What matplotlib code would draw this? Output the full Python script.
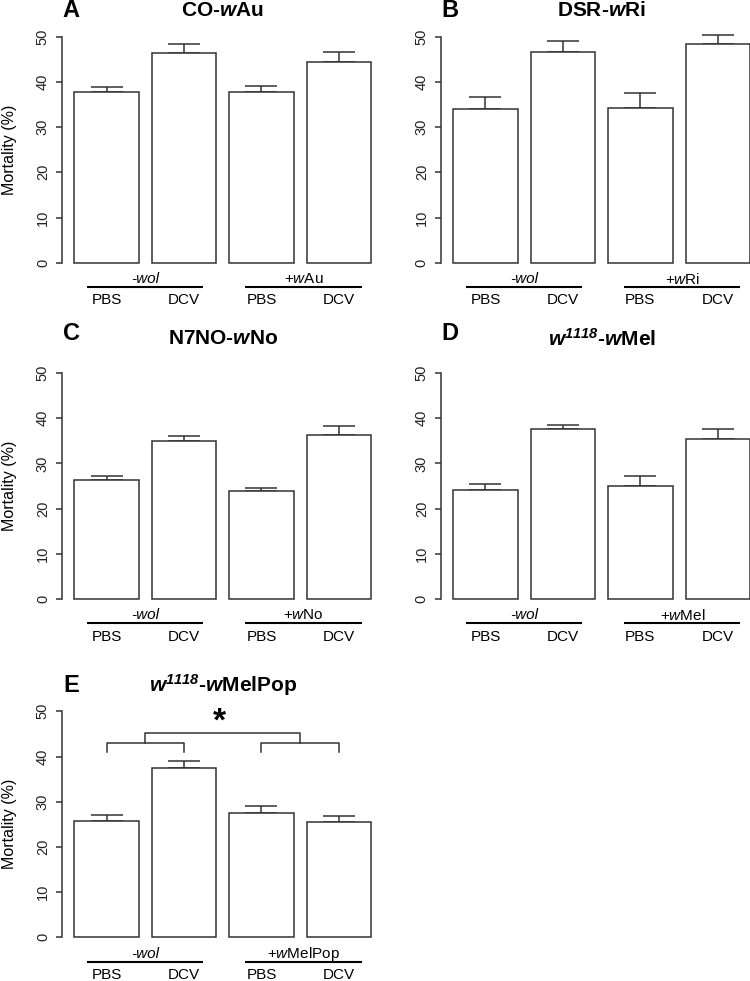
import matplotlib
matplotlib.use('Agg')
import matplotlib.pyplot as plt

plt.rcParams['font.family'] = ['Liberation Sans', 'DejaVu Sans']
plt.rcParams['mathtext.fontset'] = 'custom'
plt.rcParams['mathtext.rm'] = 'Liberation Sans'
plt.rcParams['mathtext.it'] = 'Liberation Sans:italic'
plt.rcParams['mathtext.bf'] = 'Liberation Sans:bold'
plt.rcParams['mathtext.bfit'] = 'Liberation Sans:italic:bold'

# ---------------- data ----------------
conditions = ['PBS', 'DCV', 'PBS', 'DCV']
panel_letters = ['A', 'B', 'C', 'D', 'E']
titles = [r'CO-$\mathbfit{w}$Au',
          r'DSR-$\mathbfit{w}$Ri',
          r'N7NO-$\mathbfit{w}$No',
          r'$\mathbfit{w}^{\mathbfit{1118}}$-$\mathbfit{w}$Mel',
          r'$\mathbfit{w}^{\mathbfit{1118}}$-$\mathbfit{w}$MelPop']
neg_label = '-wol'
pos_labels = [r'+$\mathit{w}$Au', r'+$\mathit{w}$Ri', r'+$\mathit{w}$No',
              r'+$\mathit{w}$Mel', r'+$\mathit{w}$MelPop']

mort_A = [37.7, 46.5, 37.7, 44.4]
err_A = [1.2, 1.8, 1.5, 2.2]
mort_B = [34.1, 46.7, 34.3, 48.4]
err_B = [2.6, 2.3, 3.2, 2.0]
mort_C = [26.3, 35.0, 24.0, 36.2]
err_C = [0.9, 1.1, 0.6, 2.1]
mort_D = [24.2, 37.6, 25.0, 35.3]
err_D = [1.3, 0.8, 2.3, 2.4]
mort_E = [25.7, 37.4, 27.4, 25.4]
err_E = [1.4, 1.7, 1.7, 1.4]

means = [mort_A, mort_B, mort_C, mort_D, mort_E]
errs = [err_A, err_B, err_C, err_D, err_E]

# significance bracket (panel E)
bracket_leg_low = 40.9
bracket_level = 43.0
bracket_top = 45.1
star_y = 47.6

yticks = [0, 10, 20, 30, 40, 50]

# ---------------- layout ----------------
W, H = 750, 981
fig = plt.figure(figsize=(W / 100, H / 100), dpi=100)

bar_x = [0.7, 1.9, 3.1, 4.3]
xlim = (0.016, 4.984)
ylim = (-2, 52)
ax_w = 320.7
px_per_unit = 4.52
ax_h = (ylim[1] - ylim[0]) * px_per_unit

lefts = [62.4, 441.3, 62.4, 441.3, 62.4]
zeros = [262.7, 262.7, 599.0, 599.0, 937.3]
letter_pos = [(71, 10.5), (450, 10.5), (72, 333), (450, 333), (71, 685.5)]
title_pos = [(222.8, 10.5), (601.7, 10.5), (222.8, 339), (601.7, 339), (222.8, 685.5)]

edge = '#333333'


def fx(px):
    return px / W


def fy(py):
    return 1 - py / H


for i in range(5):
    l = lefts[i]
    z = zeros[i]
    bottom_px = z + (0 - ylim[0]) * px_per_unit
    ax = fig.add_axes([fx(l), 1 - bottom_px / H, ax_w / W, ax_h / H])
    ax.set_xlim(*xlim)
    ax.set_ylim(*ylim)

    ax.bar(bar_x, means[i], width=1.0, color='white', edgecolor=edge,
           linewidth=1.1, zorder=2)
    ax.errorbar(bar_x, means[i], yerr=[[0] * 4, errs[i]], fmt='none',
                ecolor=edge, elinewidth=1.1, capsize=11.6, capthick=1.1,
                zorder=1)

    for s in ['top', 'right', 'bottom']:
        ax.spines[s].set_visible(False)
    ax.spines['left'].set_bounds(0, 50)
    ax.spines['left'].set_color(edge)
    ax.spines['left'].set_linewidth(1.1)
    ax.set_xticks([])
    ax.set_yticks(yticks)
    ax.set_yticklabels([str(t) for t in yticks], rotation=90, va='center',
                       fontsize=10.5, color='#222222')
    ax.tick_params(axis='y', direction='out', length=4, width=1.1,
                   color=edge, pad=5.0)

    # group labels below
    ax.text(1.3, -3.65, neg_label, ha='center', va='center', fontsize=11,
            style='italic', clip_on=False)
    ax.text(3.75, -3.65, pos_labels[i], ha='center', va='center',
            fontsize=11, clip_on=False)
    ax.plot([0.4, 2.2], [-5.42, -5.42], color='black', lw=1.5,
            clip_on=False, solid_capstyle='butt')
    ax.plot([2.85, 4.65], [-5.42, -5.42], color='black', lw=1.5,
            clip_on=False, solid_capstyle='butt')
    for xb, c in zip(bar_x, conditions):
        ax.text(xb, -8.3, c, ha='center', va='center', fontsize=11,
                clip_on=False)

    if i == 4:
        lx0, lx1 = bar_x[0], bar_x[1]
        rx0, rx1 = bar_x[2], bar_x[3]
        lm = (lx0 + lx1) / 2
        rm = (rx0 + rx1) / 2
        ax.plot([lx0, lx0, lx1, lx1], [bracket_leg_low, bracket_level,
                                       bracket_level, bracket_leg_low],
                color=edge, lw=1.1, clip_on=False)
        ax.plot([rx0, rx0, rx1, rx1], [bracket_leg_low, bracket_level,
                                       bracket_level, bracket_leg_low],
                color=edge, lw=1.1, clip_on=False)
        ax.plot([lm, lm, rm, rm], [bracket_level, bracket_top,
                                   bracket_top, bracket_level],
                color=edge, lw=1.1, clip_on=False)
        ax.text((lm + rm) / 2 - 0.05, star_y, '*', ha='center', va='center',
                fontsize=24, fontweight='bold', clip_on=False)

    # panel letter and title
    lxp, lyp = letter_pos[i]
    fig.text(fx(lxp), fy(lyp), panel_letters[i], ha='center', va='center',
             fontsize=17, fontweight='bold')
    txp, typ = title_pos[i]
    fig.text(fx(txp), fy(typ), titles[i], ha='center', va='center',
             fontsize=15, fontweight='bold')

    # y label on left column
    if lefts[i] < 100:
        fig.text(fx(9.5), fy((z + (z - 50 * px_per_unit)) / 2),
                 'Mortality (%)', rotation=90, ha='center', va='center',
                 fontsize=11.5)

fig.savefig('out.png', dpi=100)
